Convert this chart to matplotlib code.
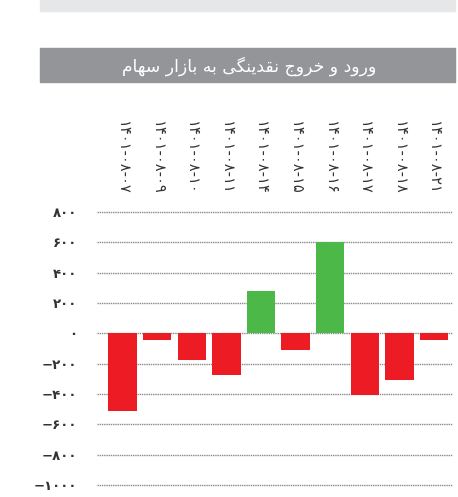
import matplotlib
matplotlib.use("Agg")
from matplotlib import pyplot as plt
from matplotlib.patches import Rectangle

# data
dates = ["۱۴۰۱-۰۸-۰۷", "۱۴۰۱-۰۸-۰۹", "۱۴۰۱-۰۸-۱۰", "۱۴۰۱-۰۸-۱۱", "۱۴۰۱-۰۸-۱۴",
         "۱۴۰۱-۰۸-۱۵", "۱۴۰۱-۰۸-۱۶", "۱۴۰۱-۰۸-۱۷", "۱۴۰۱-۰۸-۱۸", "۱۴۰۱-۰۸-۲۱"]
flows = [-510, -45, -175, -275, 280, -110, 605, -405, -310, -45]
yticks = [800, 600, 400, 200, 0, -200, -400, -600, -800, -1000]
ytick_labels = ["۸۰۰", "۶۰۰", "۴۰۰", "۲۰۰", "۰", "−۲۰۰", "−۴۰۰", "−۶۰۰", "−۸۰۰", "−۱۰۰۰"]
title = "ورود و خروج نقدینگی به بازار سهام"

# arabic presentation forms: isolated, final, initial, medial
FORMS = {
    'ا': ('\uFE8D', '\uFE8E', None, None),
    'ب': ('\uFE8F', '\uFE90', '\uFE91', '\uFE92'),
    'ج': ('\uFE9D', '\uFE9E', '\uFE9F', '\uFEA0'),
    'خ': ('\uFEA5', '\uFEA6', '\uFEA7', '\uFEA8'),
    'د': ('\uFEA9', '\uFEAA', None, None),
    'ر': ('\uFEAD', '\uFEAE', None, None),
    'ز': ('\uFEAF', '\uFEB0', None, None),
    'س': ('\uFEB1', '\uFEB2', '\uFEB3', '\uFEB4'),
    'ق': ('\uFED5', '\uFED6', '\uFED7', '\uFED8'),
    'م': ('\uFEE1', '\uFEE2', '\uFEE3', '\uFEE4'),
    'ن': ('\uFEE5', '\uFEE6', '\uFEE7', '\uFEE8'),
    'ه': ('\uFEE9', '\uFEEA', '\uFEEB', '\uFEEC'),
    'و': ('\uFEED', '\uFEEE', None, None),
    'ی': ('\uFBFC', '\uFBFD', '\uFBFE', '\uFBFF'),
    'گ': ('\uFB92', '\uFB93', '\uFB94', '\uFB95'),
}

def shape_fa(text):
    out = []
    for i, ch in enumerate(text):
        if ch not in FORMS:
            out.append(ch)
            continue
        iso, fin, ini, med = FORMS[ch]
        prev = text[i - 1] if i > 0 else ''
        nxt = text[i + 1] if i + 1 < len(text) else ''
        join_prev = prev in FORMS and FORMS[prev][2] is not None
        join_next = nxt in FORMS and ini is not None
        if join_prev and join_next:
            out.append(med)
        elif join_prev:
            out.append(fin)
        elif join_next:
            out.append(ini)
        else:
            out.append(iso)
    return ''.join(reversed(out))

W, H = 458, 497
fig = plt.figure(figsize=(W / 100, H / 100), dpi=100)

# header bands
fig.patches.append(Rectangle((40 / W, 1 - 11 / H), 415 / W, 11 / H, transform=fig.transFigure,
                             color="#e6e7e8", zorder=0))
fig.patches.append(Rectangle((40 / W, 1 - 82 / H), 415 / W, 34 / H, transform=fig.transFigure,
                             color="#939598", zorder=0))
fig.text(249 / W, 1 - 66 / H, shape_fa(title), color="white", fontsize=12.4,
         ha="center", va="center")

ax = fig.add_axes([97 / W, (H - 489.4) / H, 356 / W, 284.9 / H])
x = list(range(len(flows)))
colors = ["#4cb848" if v > 0 else "#ed1c24" for v in flows]
ax.bar(x, flows, width=0.82, color=colors, zorder=3)

ax.set_xlim(-0.737, 9.55)
ax.set_ylim(-1030, 850)
ax.set_yticks(yticks)
ax.set_yticklabels(ytick_labels, fontsize=9.5, fontweight="bold", color="#333333")
ax.set_xticks([])
ax.tick_params(axis="y", length=0, pad=14)
ax.yaxis.grid(True, linestyle=(0, (1, 0.6)), color="#8a8a8a", linewidth=1, zorder=1)
for s in ax.spines.values():
    s.set_visible(False)

for xi, d in zip(x, dates):
    ax.text(xi, 1.033, d, rotation=-90, ha="center", va="bottom", fontsize=10.5,
            color="#333333", transform=ax.get_xaxis_transform())

fig.savefig("out.png", dpi=100)
